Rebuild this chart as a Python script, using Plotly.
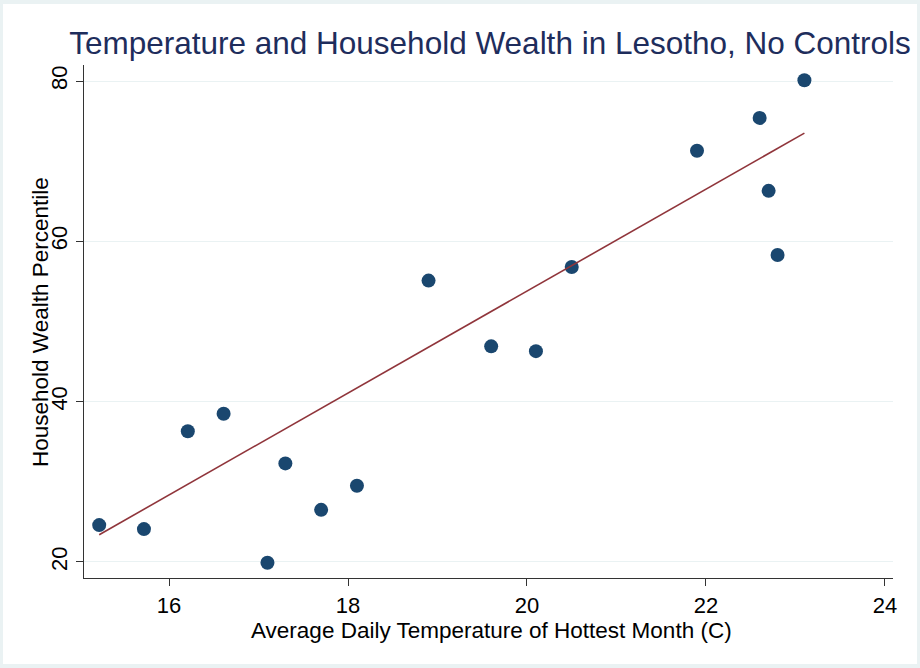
import plotly.graph_objs as go

# temperature (C) and household wealth percentile
temperature = [15.22, 15.72, 16.21, 16.61, 17.1, 17.3, 17.7, 18.1, 18.9, 19.6,
               20.1, 20.5, 21.9, 22.6, 22.7, 22.8, 23.1]
wealth = [24.6, 24.1, 36.3, 38.5, 19.9, 32.3, 26.5, 29.5, 55.1, 46.9,
          46.3, 56.8, 71.3, 75.4, 66.3, 58.3, 80.1]
# fitted line end points as drawn in the chart
fit_x = [15.22, 23.1]
fit_y = [23.4, 73.5]
x_ticks = [16, 18, 20, 22, 24]
y_ticks = [20, 40, 60, 80]

W, H = 920, 668
L, R, T, B = 84, 27, 65, 90
pw, ph = W - L - R, H - T - B


def px(x):
    return (x - L) / pw


def py(y):
    return (H - B - y) / ph


fig = go.Figure()
fig.add_trace(go.Scatter(
    x=temperature, y=wealth, mode='markers',
    marker=dict(color='#1a476f', size=14, line=dict(width=0)),
    showlegend=False,
))
fig.add_trace(go.Scatter(
    x=fit_x, y=fit_y, mode='lines',
    line=dict(color='#90353b', width=1.6),
    showlegend=False,
))

# white inner panel over the light frame
fig.add_shape(type='rect', xref='paper', yref='paper', layer='below',
              x0=px(3), x1=px(917), y0=py(664), y1=py(4),
              fillcolor='white', line=dict(width=0))

# axis titles as annotations for exact placement
fig.add_annotation(text='Average Daily Temperature of Hottest Month (C)',
                   xref='paper', yref='paper', x=px(492), y=py(630),
                   xanchor='center', yanchor='middle', showarrow=False,
                   font=dict(size=22.5))
fig.add_annotation(text='Household Wealth Percentile',
                   xref='paper', yref='paper', x=px(40), y=py(322),
                   xanchor='center', yanchor='middle', showarrow=False,
                   textangle=-90, font=dict(size=22.5))

fig.update_layout(
    width=W, height=H,
    margin=dict(l=L, r=R, t=T, b=B),
    paper_bgcolor='#eaf2f3',
    plot_bgcolor='white',
    font=dict(family='Liberation Sans, Arial, sans-serif', color='black'),
    title=dict(
        text='Temperature and Household Wealth in Lesotho, No Controls',
        x=px(490), xanchor='center', xref='paper', y=1 - 43 / H, yanchor='middle',
        font=dict(size=31.5, color='#1e2d5c'),
    ),
    xaxis=dict(
        range=[15.05, 24.09], tickvals=x_ticks, showgrid=False, zeroline=False,
        showline=True, linecolor='#333333', linewidth=1.3, automargin=False,
        ticks='outside', ticklen=7, tickcolor='#333333',
        tickfont=dict(size=22),
    ),
    yaxis=dict(
        range=[18.0, 82.0], tickvals=y_ticks, showgrid=True, gridcolor='#eaf2f3',
        gridwidth=1.3, zeroline=False, automargin=False,
        showline=True, linecolor='#333333', linewidth=1.3,
        ticks='outside', ticklen=7, tickcolor='#333333',
        tickangle=-90, tickfont=dict(size=22),
    ),
)

# drop the default page margin so the figure sits at the window's corner
fig.write_html('out.html', config={'displayModeBar': False},
               post_script="document.body.style.margin = '0';")
